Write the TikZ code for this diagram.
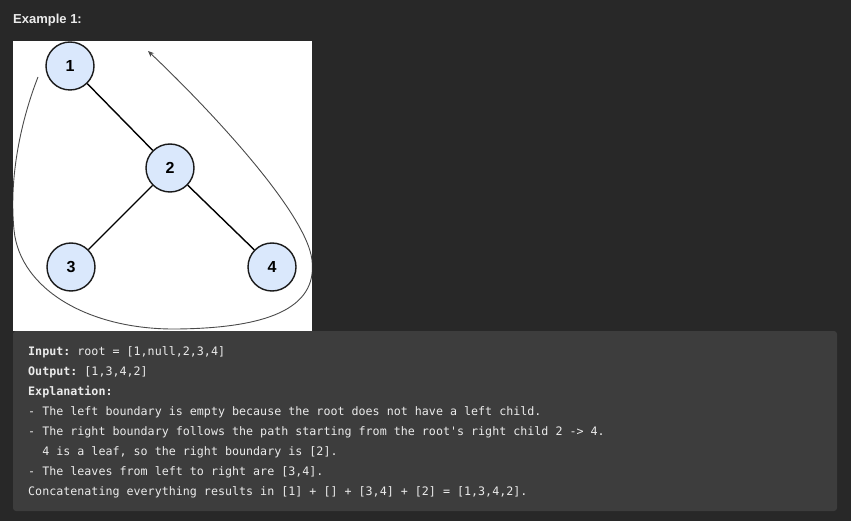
\documentclass[tikz,border=0pt]{standalone}
\usepackage{fontspec}
\setsansfont{Liberation Sans}
\setmonofont{DejaVu Sans Mono}
\usetikzlibrary{arrows.meta}
\definecolor{pagebg}{HTML}{282828}
\definecolor{codebg}{HTML}{3D3D3D}
\definecolor{codetext}{HTML}{EBEBEB}
\definecolor{nodefill}{HTML}{DAE8FC}
\definecolor{nodeline}{HTML}{1A1A1A}
\definecolor{curvecol}{HTML}{4A4A4A}
\tikzset{
  treenode/.style={circle, draw=nodeline, fill=nodefill, line width=1.4pt,
    minimum size=48pt, inner sep=0pt, font=\sffamily\bfseries\fontsize{16}{16}\selectfont},
  treeedge/.style={draw=black, line width=1.4pt},
  loopcurve/.style={draw=curvecol, line width=0.9pt, -{Stealth[length=6pt,width=5pt]}},
  codeline/.style={anchor=base west, inner sep=0pt, text=codetext,
    font=\ttfamily\fontsize{11.68}{14}\selectfont},
}
\begin{document}
\begin{tikzpicture}[x=1pt,y=-1pt]
\useasboundingbox (0,0) rectangle (851,521);
\fill[pagebg] (0,0) rectangle (851,521);
\node[anchor=base west, inner sep=0pt, text=white!92!black,
  font=\sffamily\bfseries\fontsize{13}{15}\selectfont] (title) at (13,24) {Example 1:};
% image
\fill[white] (13,41) rectangle (312,331);
\node[treenode] (n1) at (70,66) {1};
\node[treenode] (n2) at (170,168) {2};
\node[treenode] (n3) at (71,267) {3};
\node[treenode] (n4) at (272,267) {4};
\draw[treeedge] (n1) -- (n2);
\draw[treeedge] (n2) -- (n3);
\draw[treeedge] (n2) -- (n4);
\coordinate (cs) at (38,77);
\coordinate (ct) at (148,51);
\begin{scope}
\clip (13,41) rectangle (312,331);
\draw[loopcurve] (cs) .. controls (25,110) and (8,170) .. (14,230)
  .. controls (20,290) and (90,330) .. (177,329)
  .. controls (264,328) and (318,310) .. (312,260)
  .. controls (306,210) and (200,100) .. (ct);
\end{scope}
% code box
\fill[codebg, rounded corners=3pt] (13,331) rectangle (837,511);
\node[codeline] (l1) at (28,355) {\bfseries Input:\mdseries{} root = [1,null,2,3,4]};
\node[codeline] (l2) at (28,375) {\bfseries Output:\mdseries{} [1,3,4,2]};
\node[codeline] (l3) at (28,395) {\bfseries Explanation:};
\node[codeline] (l4) at (28,415) {- The left boundary is empty because the root does not have a left child.};
\node[codeline] (l5) at (28,435) {- The right boundary follows the path starting from the root's right child 2 -> 4.};
\node[codeline] (l6) at (28,455) {\hphantom{xx}4 is a leaf, so the right boundary is [2].};
\node[codeline] (l7) at (28,475) {- The leaves from left to right are [3,4].};
\node[codeline] (l8) at (28,495) {Concatenating everything results in [1] + [] + [3,4] + [2] = [1,3,4,2].};
\end{tikzpicture}
\end{document}
